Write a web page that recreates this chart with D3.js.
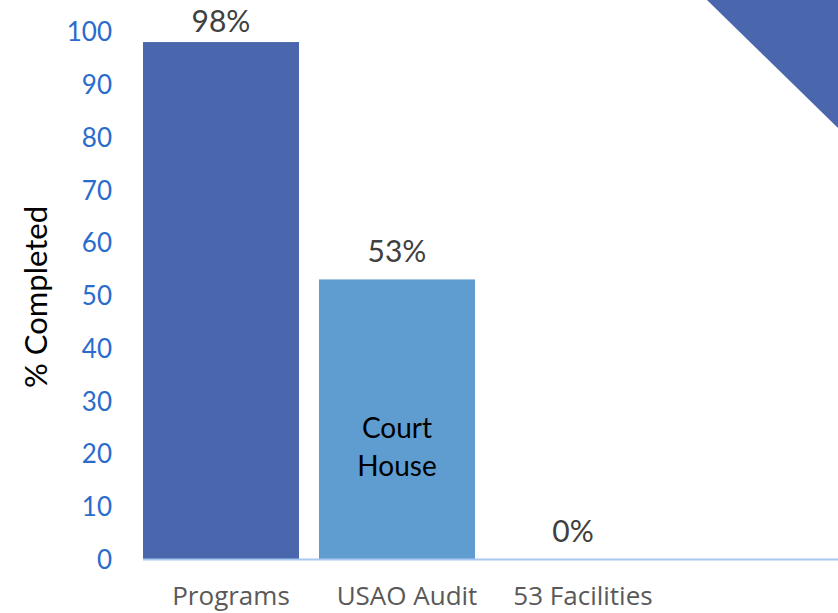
<!DOCTYPE html>
<html><head><meta charset="utf-8">
<script src="https://cdn.jsdelivr.net/npm/d3@7/dist/d3.min.js"></script>
<style>body{margin:0;background:#fff;}svg{display:block;}</style>
</head><body>
<script>
const categories = ["Programs", "USAO Audit", "53 Facilities"];
const values = [98, 53, 0];
const valueLabels = ["98%", "53%", "0%"];
const barColors = ["#4a66ad", "#5f9dd1", "#5f9dd1"];
const yTicks = [0, 10, 20, 30, 40, 50, 60, 70, 80, 90, 100];
const innerLabel = ["Court", "House"];

const W = 838, H = 613;
const svg = d3.select("body").append("svg").attr("width", W).attr("height", H);

// decorative corner triangle
svg.append("polygon").attr("points", "707,0 838,0 838,128").attr("fill", "#4a66ad");

const y = d3.scaleLinear().domain([0, 100]).range([559, 31.5]);
const x = d3.scaleBand().domain(categories).range([143, 143 + 176 * categories.length]).padding(0);
const barW = x.bandwidth() * 156 / 176;

// bars
svg.selectAll("rect.bar").data(values).enter().append("rect")
  .attr("x", (d, i) => x(categories[i]))
  .attr("y", d => y(d))
  .attr("width", barW)
  .attr("height", d => y(0) - y(d))
  .attr("fill", (d, i) => barColors[i]);

// baseline
svg.append("line").attr("x1", 143).attr("x2", 838).attr("y1", y(0) + 0.5).attr("y2", y(0) + 0.5)
  .attr("stroke", "#a8c8f0").attr("stroke-width", 2);

// y axis
const yAxis = d3.axisLeft(y).tickValues(yTicks).tickSize(0).tickPadding(0);
const gy = svg.append("g").attr("transform", "translate(112,0)").call(yAxis);
gy.select(".domain").remove();
gy.selectAll("text").attr("font-family", "Lato, 'Noto Sans', sans-serif").attr("font-size", 26)
  .attr("fill", "#2a6ccc").attr("dy", "0.36em");

// x labels
const xAxis = d3.axisBottom(x).tickSize(0).tickPadding(0);
const gx = svg.append("g").attr("transform", "translate(0,587)").call(xAxis);
gx.select(".domain").remove();
gx.selectAll("text").attr("font-family", "'Open Sans', Lato, sans-serif").attr("font-size", 26)
  .attr("fill", "#595959").attr("dy", "0.71em");

// value labels (clamped inside the top of the plot)
svg.selectAll("text.val").data(values).enter().append("text")
  .attr("class", "val")
  .attr("x", (d, i) => x(categories[i]) + barW / 2)
  .attr("y", d => Math.max(y(d) - 17, 32))
  .attr("text-anchor", "middle")
  .attr("font-family", "Lato, 'Noto Sans', sans-serif").attr("font-size", 30)
  .attr("fill", "#404040")
  .text((d, i) => valueLabels[i]);

// inner label
svg.append("text").attr("x", x(categories[1]) + barW / 2).attr("y", 438)
  .attr("text-anchor", "middle").attr("font-family", "Lato, 'Noto Sans', sans-serif")
  .attr("font-size", 28).attr("fill", "#000")
  .selectAll("tspan").data(innerLabel).enter().append("tspan")
  .attr("x", x(categories[1]) + barW / 2).attr("dy", (d, i) => i === 0 ? 0 : 38).text(d => d);

// y title
svg.append("text").attr("transform", "translate(47,297) rotate(-90)")
  .attr("text-anchor", "middle").attr("font-family", "Lato, 'Noto Sans', sans-serif")
  .attr("font-size", 31).attr("fill", "#000").text("% Completed");
</script>
</body></html>
